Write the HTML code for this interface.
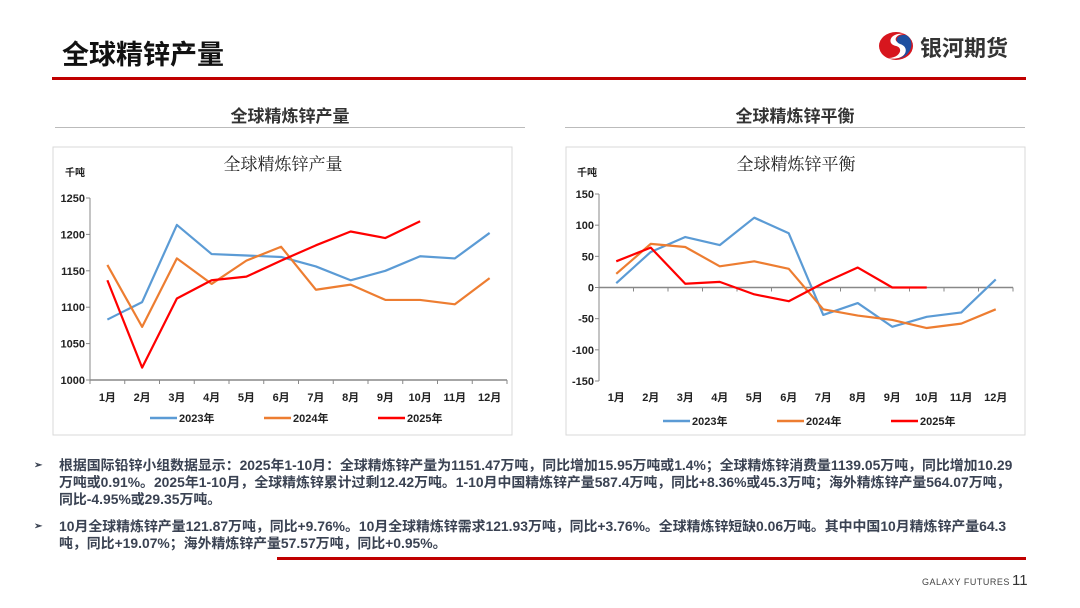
<!DOCTYPE html>
<html><head><meta charset="utf-8"><style>
body{margin:0;width:1080px;height:608px;background:#fff;position:relative;overflow:hidden;font-family:"Liberation Sans","Noto Sans CJK SC",sans-serif}
.abs{position:absolute}
.bul{position:absolute;left:38px;width:1000px;font-size:13.9px;font-weight:bold;color:#3a4252;line-height:17px;white-space:nowrap}
.bul span.m{position:absolute;left:-4px;top:0;font-size:10px}
.bul div{padding-left:21px}
</style></head><body>
<div class="abs" style="left:62px;top:33px;font-size:27px;font-weight:bold;color:#111;font-family:'Noto Sans CJK SC',sans-serif">全球精锌产量</div>
<div class="abs" style="left:876px;top:28px;width:150px;height:36px">
<svg width="40" height="36" viewBox="0 0 40 36"><ellipse cx="20" cy="18" rx="17" ry="14" fill="#d7161e"/><path d="M28 6 C14 4 10 16 20 18 C28 20 24 30 12 30 C30 34 36 18 24 15 C16 13 20 6 28 6Z" fill="#fff"/><path d="M30 7 C20 6 18 14 24 16 C34 19 30 30 20 31 C36 30 40 12 30 7Z" fill="#1d4fa0"/></svg>
<span style="position:absolute;left:44px;top:3px;font-size:22px;font-weight:bold;color:#333;font-family:'Noto Sans CJK SC',sans-serif">银河期货</span></div>
<div class="abs" style="left:52px;top:77px;width:974px;height:3px;background:#c00000"></div>
<div class="abs" style="left:55px;top:102px;width:470px;text-align:center;font-size:17px;font-weight:bold;color:#333;font-family:'Noto Sans CJK SC',sans-serif">全球精炼锌产量</div>
<div class="abs" style="left:55px;top:127px;width:470px;height:1px;background:#bbb"></div>
<div class="abs" style="left:565px;top:102px;width:460px;text-align:center;font-size:17px;font-weight:bold;color:#333;font-family:'Noto Sans CJK SC',sans-serif">全球精炼锌平衡</div>
<div class="abs" style="left:565px;top:127px;width:460px;height:1px;background:#bbb"></div>
<svg id="c1" class="abs" style="left:0;top:0" width="1080" height="608"></svg>
<div class="bul" style="top:457px"><span class="m">➢</span><div>根据国际铅锌小组数据显示：2025年1-10月：全球精炼锌产量为1151.47万吨，同比增加15.95万吨或1.4%；全球精炼锌消费量1139.05万吨，同比增加10.29<br>万吨或0.91%。2025年1-10月，全球精炼锌累计过剩12.42万吨。1-10月中国精炼锌产量587.4万吨，同比+8.36%或45.3万吨；海外精炼锌产量564.07万吨，<br>同比-4.95%或29.35万吨。</div></div>
<div class="bul" style="top:518px"><span class="m">➢</span><div>10月全球精炼锌产量121.87万吨，同比+9.76%。10月全球精炼锌需求121.93万吨，同比+3.76%。全球精炼锌短缺0.06万吨。其中中国10月精炼锌产量64.3<br>吨，同比+19.07%；海外精炼锌产量57.57万吨，同比+0.95%。</div></div>
<div class="abs" style="left:277px;top:557px;width:749px;height:3px;background:#c00000"></div>
<div class="abs" style="left:922px;top:577px;font-size:9px;color:#444;letter-spacing:0.5px">GALAXY FUTURES</div>
<div class="abs" style="left:1012px;top:572px;font-size:15px;color:#333">11</div>
<script>
const months=["1月","2月","3月","4月","5月","6月","7月","8月","9月","10月","11月","12月"];
const seriesNames=["2023年","2024年","2025年"];
const colors=["#5b9bd5","#ed7d31","#ff0000"];
const prod2023=[1083,1107,1213,1173,1171,1169,1156,1137,1150,1170,1167,1202];
const prod2024=[1158,1073,1167,1132,1164,1183,1124,1131,1110,1110,1104,1140];
const prod2025=[1137,1017,1112,1137,1142,1164,1185,1204,1195,1218];
const prodTicks=[1000,1050,1100,1150,1200,1250];
const bal2023=[7,57,81,68,112,87,-44,-25,-63,-47,-40,13];
const bal2024=[22,70,65,34,42,30,-35,-45,-52,-65,-58,-35];
const bal2025=[42,64,6,9,-11,-22,7,32,0,0];
const balTicks=[-150,-100,-50,0,50,100,150];
const svg=document.getElementById('c1');
const NS='http://www.w3.org/2000/svg';
function el(t,a,txt){const e=document.createElementNS(NS,t);for(const k in a)e.setAttribute(k,a[k]);if(txt!=null)e.textContent=txt;svg.appendChild(e);return e;}
function chart(o){
  const box=el('rect',{x:o.bx,y:147,width:459,height:288,fill:'#fff',stroke:'#d9d9d9'});
  
  
  const t=el('text',{x:o.bx+230,y:170,'text-anchor':'middle','font-size':17,'font-family':'Liberation Serif,Noto Serif CJK SC,serif',fill:'#222'},o.title);
  
  
  const u=el('text',{x:o.ux,y:176,'font-size':10,'font-weight':'bold',fill:'#222','font-family':'Noto Sans CJK SC,sans-serif'},'千吨');
  
  
  const min=o.ticks[0],max=o.ticks[o.ticks.length-1];
  const y=v=>o.y1+(o.y0-o.y1)*(max-v)/(max-min);
  const step=(o.x1-o.x0)/12;
  const x=i=>o.x0+step*(i+0.5);
  el('line',{x1:o.x0,y1:o.y1,x2:o.x0,y2:o.y0,stroke:'#888'});
  o.ticks.forEach(v=>{el('line',{x1:o.x0-4,y1:y(v),x2:o.x0,y2:y(v),stroke:'#888'});
    const l=el('text',{x:o.x0-5,y:y(v)+4,'text-anchor':'end','font-size':11,'font-weight':'bold',fill:'#222'},v);
    
    });
  const ya=y(o.base);
  el('line',{x1:o.x0,y1:ya,x2:o.x1,y2:ya,stroke:'#888','stroke-width':1.5});
  for(let i=0;i<=12;i++)el('line',{x1:o.x0+step*i,y1:ya,x2:o.x0+step*i,y2:ya+4,stroke:'#888'});
  months.forEach((m,i)=>{const l=el('text',{x:x(i),y:401,'text-anchor':'middle','font-size':11,'font-weight':'bold',fill:'#222','font-family':'Liberation Sans,Noto Sans CJK SC,sans-serif'},m);
    
    });
  o.data.forEach((d,s)=>{const p=el('polyline',{points:d.map((v,i)=>x(i)+','+y(v)).join(' '),fill:'none',stroke:colors[s],'stroke-width':2.2,'stroke-linejoin':'round'});
    
    
    const lx=o.lx+s*o.ls;
    el('line',{x1:lx,y1:o.ly,x2:lx+27,y2:o.ly,stroke:colors[s],'stroke-width':2.5});
    const lt=el('text',{x:lx+29,y:o.ly+4,'font-size':11,'font-weight':'bold',fill:'#222','font-family':'Liberation Sans,Noto Sans CJK SC,sans-serif'},seriesNames[s]);
    
    });
}
chart({id:'production-chart',bx:53,title:'全球精炼锌产量',ux:65,x0:90,x1:507,y0:380,y1:198,ticks:prodTicks,base:1000,data:[prod2023,prod2024,prod2025],lx:150,ls:114,ly:418});
chart({id:'balance-chart',bx:566,title:'全球精炼锌平衡',ux:577,x0:599,x1:1013,y0:381,y1:194,ticks:balTicks,base:0,data:[bal2023,bal2024,bal2025],lx:663,ls:114,ly:421});
</script>
</body></html>
